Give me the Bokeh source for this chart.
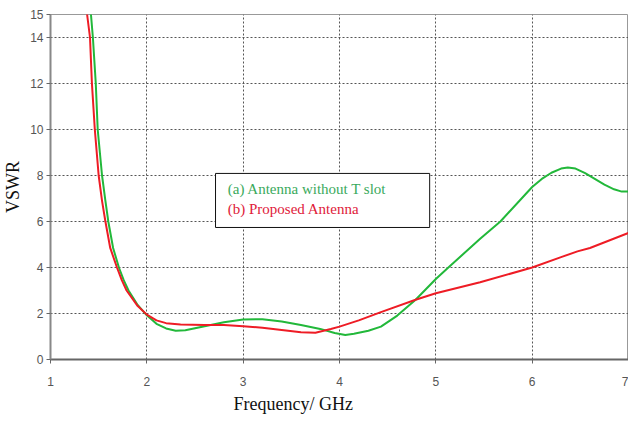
from bokeh.plotting import figure
from bokeh.models import FixedTicker, Label, BoxAnnotation, Title
from bokeh.embed import file_html
from bokeh.resources import INLINE

# Data
freq_a = [1.41, 1.42, 1.44, 1.47, 1.49, 1.535, 1.57, 1.60, 1.65, 1.71, 1.76, 1.81, 1.90, 2.00,
          2.10, 2.20, 2.30, 2.40, 2.60, 2.80, 3.00, 3.20, 3.40, 3.60, 3.80, 3.95, 4.06, 4.15,
          4.30, 4.43, 4.60, 4.79, 5.00, 5.13, 5.46, 5.67, 6.00, 6.10, 6.20, 6.30, 6.37, 6.45,
          6.55, 6.65, 6.75, 6.85, 6.93, 7.00]
vswr_a = [16.0, 15.0, 14.0, 12.0, 10.0, 8.0, 6.9, 6.0, 4.85, 4.0, 3.45, 3.0, 2.4, 1.92,
          1.55, 1.35, 1.25, 1.27, 1.45, 1.62, 1.74, 1.75, 1.65, 1.50, 1.33, 1.15, 1.07, 1.12,
          1.25, 1.43, 1.91, 2.6, 3.5, 4.0, 5.25, 6.0, 7.5, 7.85, 8.12, 8.3, 8.35, 8.3,
          8.1, 7.85, 7.6, 7.4, 7.3, 7.3]

freq_b = [1.37, 1.38, 1.41, 1.43, 1.46, 1.50, 1.535, 1.57, 1.62, 1.69, 1.74, 1.79, 1.90, 2.00,
          2.10, 2.20, 2.35, 2.60, 2.80, 3.00, 3.20, 3.40, 3.60, 3.75, 3.91, 4.00, 4.20, 4.43,
          4.79, 5.00, 5.46, 6.00, 6.30, 6.47, 6.60, 7.00]
vswr_b = [16.0, 15.0, 14.0, 12.0, 10.0, 8.0, 6.9, 6.0, 4.85, 4.0, 3.45, 3.0, 2.35, 1.95,
          1.70, 1.58, 1.52, 1.50, 1.50, 1.45, 1.38, 1.28, 1.18, 1.16, 1.33, 1.43, 1.70, 2.06,
          2.60, 2.88, 3.36, 4.00, 4.45, 4.70, 4.85, 5.50]

x_ticks = [1, 2, 3, 4, 5, 6, 7]
y_ticks = [0, 2, 4, 6, 8, 10, 12, 14, 15]
label_a = "(a) Antenna without T slot"
label_b = "(b) Proposed Antenna"

p = figure(width=628, height=420, x_range=(1, 7), y_range=(0, 15),
           output_backend="svg", toolbar_location=None,
           min_border_left=50, min_border_right=0, min_border_top=14, min_border_bottom=61)
p.background_fill_color = "white"
p.border_fill_color = "white"
p.outline_line_color = "#999999"
p.outline_line_width = 1

p.line(freq_a, vswr_a, line_color="#22b83a", line_width=2)
p.line(freq_b, vswr_b, line_color="#ee1c25", line_width=2)

for ax in (p.xaxis[0], p.yaxis[0]):
    ax.major_label_text_font = "Liberation Sans"
    ax.major_label_text_font_size = "12px"
    ax.major_label_text_color = "#555555"
    ax.major_tick_out = 4
    ax.major_tick_in = 0
    ax.minor_tick_out = 0
    ax.minor_tick_in = 0
    ax.major_tick_line_color = "#666666"
    ax.axis_line_width = 2

p.xaxis.ticker = FixedTicker(ticks=x_ticks)
p.yaxis.ticker = FixedTicker(ticks=y_ticks)
p.xaxis.axis_line_color = "#666666"
p.yaxis.axis_line_color = "#888888"
p.xaxis.major_label_standoff = 13
p.yaxis.major_label_standoff = 3

p.yaxis.axis_label = "VSWR"
p.yaxis.axis_label_text_font = "Liberation Serif"
p.yaxis.axis_label_text_font_size = "18px"
p.yaxis.axis_label_text_font_style = "normal"
p.yaxis.axis_label_text_color = "#111111"
p.yaxis.axis_label_standoff = 4

p.grid.grid_line_color = "#555555"
p.grid.grid_line_dash = "2 2"
p.grid.grid_line_width = 1
p.xgrid.ticker = FixedTicker(ticks=[2, 3, 4, 5, 6])
p.ygrid.ticker = FixedTicker(ticks=[2, 4, 6, 8, 10, 12, 14])

p.add_layout(Title(text="Frequency/ GHz", align="left", offset=183,
                   text_font="Liberation Serif", text_font_size="18px",
                   text_font_style="normal", text_color="#111111", standoff=6), "below")

p.add_layout(BoxAnnotation(left=2.713, right=4.936, bottom=5.74, top=8.09,
                           fill_color="white", fill_alpha=1.0,
                           line_color="#111111", line_alpha=1.0, line_width=1))
p.add_layout(Label(x=2.84, y=7.4, text=label_a, text_font="Liberation Serif",
                   text_font_size="15px", text_color="#3aaa5c",
                   text_align="left", text_baseline="middle"))
p.add_layout(Label(x=2.84, y=6.55, text=label_b, text_font="Liberation Serif",
                   text_font_size="15px", text_color="#e0203a",
                   text_align="left", text_baseline="middle"))

open("out.html", "w").write(file_html(p, INLINE))
